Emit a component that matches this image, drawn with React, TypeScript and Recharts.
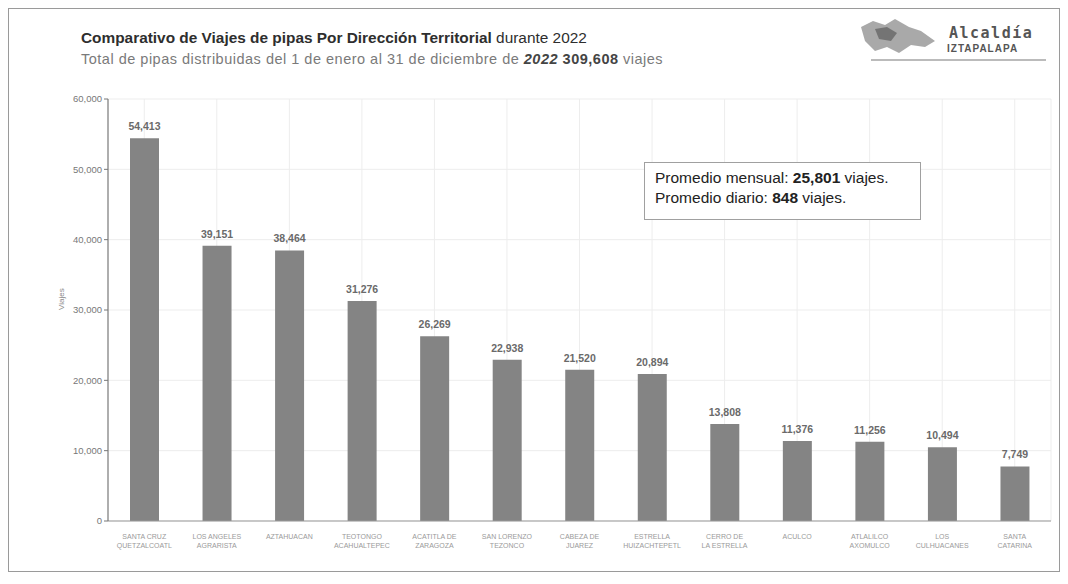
import React from 'react';
import {
  BarChart,
  Bar,
  XAxis,
  YAxis,
  CartesianGrid,
  LabelList
} from 'recharts';

// direcciones territoriales (line break marked with \n)
const categories = [
  'SANTA CRUZ\nQUETZALCOATL',
  'LOS ANGELES\nAGRARISTA',
  'AZTAHUACAN',
  'TEOTONGO\nACAHUALTEPEC',
  'ACATITLA DE\nZARAGOZA',
  'SAN LORENZO\nTEZONCO',
  'CABEZA DE\nJUAREZ',
  'ESTRELLA\nHUIZACHTEPETL',
  'CERRO DE\nLA ESTRELLA',
  'ACULCO',
  'ATLALILCO\nAXOMULCO',
  'LOS\nCULHUACANES',
  'SANTA\nCATARINA',
];

const viajes = [54413, 39151, 38464, 31276, 26269, 22938, 21520, 20894, 13808, 11376, 11256, 10494, 7749];

const yTicks = [0, 10000, 20000, 30000, 40000, 50000, 60000];

const data = categories.map((name, i) => ({ name, viajes: viajes[i] }));

const fmt = (v: number) => v.toLocaleString('en-US');

const font = '"Liberation Sans", Arial, sans-serif';

function CategoryTick(props: any) {
  const { x, y, payload } = props;
  const lines = String(payload.value).split('\n');
  return (
    <g transform={`translate(${x},${y})`}>
      {lines.map((l, i) => (
        <text
          key={i}
          x={0}
          y={10 + i * 9}
          textAnchor="middle"
          fontSize={7}
          fill="#9a9a9a"
          fontFamily={font}
        >
          {l}
        </text>
      ))}
    </g>
  );
}

function Logo() {
  return (
    <div style={{ position: 'absolute', left: 842, top: 8, width: 200, height: 44 }}>
      <svg width={90} height={40} style={{ position: 'absolute', left: 0, top: 0 }}>
        <polygon
          points="10,10 22,4 34,8 44,2 58,10 70,14 84,24 74,30 60,28 48,36 36,30 24,34 14,24"
          fill="#8c8c8c"
          opacity={0.75}
        />
        <polygon points="24,12 36,10 46,16 40,24 28,22" fill="#5e5e5e" opacity={0.7} />
      </svg>
      <div
        style={{
          position: 'absolute',
          left: 98,
          top: 7,
          fontFamily: '"DejaVu Sans Mono", monospace',
          fontSize: 15,
          fontWeight: 'bold',
          letterSpacing: 1.5,
          color: '#555',
        }}
      >
        Alcaldía
      </div>
      <div
        style={{
          position: 'absolute',
          left: 96,
          top: 26,
          fontFamily: font,
          fontSize: 10,
          fontWeight: 'bold',
          letterSpacing: 1,
          color: '#555',
        }}
      >
        IZTAPALAPA
      </div>
      <div style={{ position: 'absolute', left: 20, top: 42, width: 175, borderTop: '2px solid #bbb' }} />
    </div>
  );
}

export default function App() {
  return (
    <div
      style={{
        position: 'relative',
        width: 1052,
        height: 564,
        border: '1px solid #9a9a9a',
        boxSizing: 'border-box',
        background: '#fff',
        fontFamily: font,
      }}
    >
      <div style={{ position: 'absolute', left: 72, top: 20, fontSize: 15.4, color: '#2e2e2e' }}>
        <span style={{ fontWeight: 'bold' }}>Comparativo de Viajes de pipas Por Dirección Territorial</span> durante 2022
      </div>
      <div
        style={{
          position: 'absolute',
          left: 72,
          top: 42,
          fontSize: 14.5,
          letterSpacing: 0.5,
          color: '#7a7a7a',
        }}
      >
        Total de pipas distribuidas del 1 de enero al 31 de diciembre de{' '}
        <b style={{ fontStyle: 'italic', color: '#444' }}>2022</b> <b style={{ color: '#444' }}>309,608</b> viajes
      </div>
      <Logo />

      <BarChart
        width={1050}
        height={560}
        data={data}
        margin={{ top: 90, right: 8, left: 40, bottom: 0 }}
        barCategoryGap="10%"
      >
        <CartesianGrid stroke="#ededed" />
        <XAxis
          dataKey="name"
          interval={0}
          height={48}
          tick={<CategoryTick />}
          tickLine={false}
          axisLine={{ stroke: '#999' }}
        />
        <YAxis
          width={59}
          domain={[0, 60000]}
          ticks={yTicks}
          tickFormatter={fmt}
          tick={{ fontSize: 9.5, fill: '#777', fontFamily: font }}
          tickLine={{ stroke: '#777' }}
          tickSize={4}
          axisLine={{ stroke: '#666' }}
          label={{
            value: 'Viajes',
            angle: -90,
            position: 'insideLeft',
            offset: 12,
            style: { fontSize: 8, fill: '#888', fontFamily: font },
          }}
        />
        <Bar dataKey="viajes" fill="#848484" barSize={29} isAnimationActive={false}>
          <LabelList
            dataKey="viajes"
            position="top"
            offset={8}
            formatter={(v: any) => fmt(Number(v))}
            style={{ fontSize: 10.5, fontWeight: 'bold', fill: '#6a6a6a', fontFamily: font }}
          />
        </Bar>
      </BarChart>

      <div
        style={{
          position: 'absolute',
          left: 635,
          top: 153,
          width: 277,
          height: 58,
          border: '1px solid #a0a0a0',
          boxSizing: 'border-box',
          background: '#fff',
          padding: '5px 0 0 10px',
          fontSize: 15.5,
          lineHeight: '20px',
          color: '#222',
        }}
      >
        <div>
          Promedio mensual: <b>25,801</b> viajes.
        </div>
        <div>
          Promedio diario: <b>848</b> viajes.
        </div>
      </div>
    </div>
  );
}
